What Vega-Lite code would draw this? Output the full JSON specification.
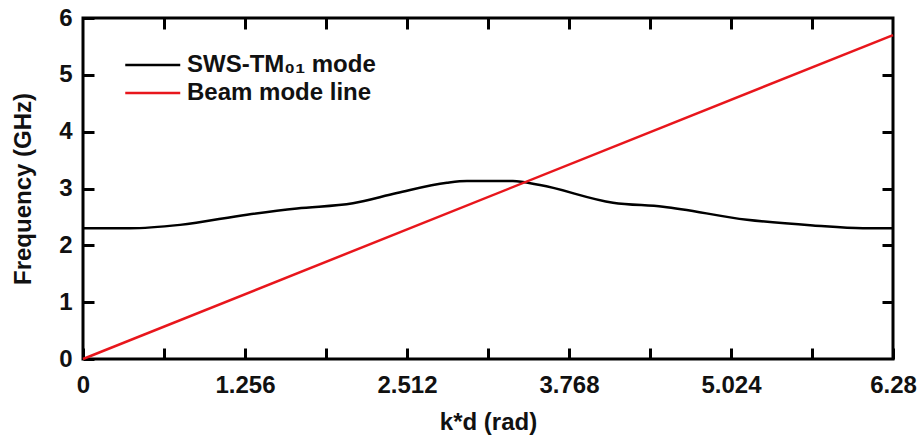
{
  "$schema": "https://vega.github.io/schema/vega-lite/v6.json",
  "width": 810,
  "height": 341,
  "autosize": {"type": "none"},
  "padding": {"left": 83, "top": 18, "right": 30, "bottom": 88},
  "background": "white",
  "config": {
    "view": {"stroke": "black", "strokeWidth": 3},
    "font": "Liberation Sans",
    "axis": {
      "domain": false, "ticks": true, "zindex": 1,
      "tickColor": "black", "tickWidth": 3, "tickSize": 11, "offset": -11,
      "labelFont": "Liberation Sans", "labelFontWeight": "bold", "labelFontSize": 24, "labelColor": "#111",
      "titleFont": "Liberation Sans", "titleFontWeight": "bold", "titleFontSize": 24, "titleColor": "#111",
      "grid": false
    }
  },
  "data": {
    "values": [
      {"kd": 0, "f": 2.30, "series": "SWS-TM₀₁ mode"},
      {"kd": 0.364, "f": 2.30, "series": "SWS-TM₀₁ mode"},
      {"kd": 0.752, "f": 2.36, "series": "SWS-TM₀₁ mode"},
      {"kd": 1.271, "f": 2.54, "series": "SWS-TM₀₁ mode"},
      {"kd": 1.659, "f": 2.65, "series": "SWS-TM₀₁ mode"},
      {"kd": 2.093, "f": 2.74, "series": "SWS-TM₀₁ mode"},
      {"kd": 2.434, "f": 2.92, "series": "SWS-TM₀₁ mode"},
      {"kd": 2.822, "f": 3.10, "series": "SWS-TM₀₁ mode"},
      {"kd": 2.977, "f": 3.13, "series": "SWS-TM₀₁ mode"},
      {"kd": 3.333, "f": 3.13, "series": "SWS-TM₀₁ mode"},
      {"kd": 3.543, "f": 3.06, "series": "SWS-TM₀₁ mode"},
      {"kd": 4.109, "f": 2.75, "series": "SWS-TM₀₁ mode"},
      {"kd": 4.497, "f": 2.68, "series": "SWS-TM₀₁ mode"},
      {"kd": 5.148, "f": 2.45, "series": "SWS-TM₀₁ mode"},
      {"kd": 5.660, "f": 2.35, "series": "SWS-TM₀₁ mode"},
      {"kd": 6.047, "f": 2.30, "series": "SWS-TM₀₁ mode"},
      {"kd": 6.28, "f": 2.30, "series": "SWS-TM₀₁ mode"},
      {"kd": 0, "f": 0, "series": "Beam mode line"},
      {"kd": 6.28, "f": 5.70, "series": "Beam mode line"}
    ]
  },
  "encoding": {
    "x": {"field": "kd", "type": "quantitative", "scale": {"domain": [0, 6.28], "nice": false, "zero": false}},
    "y": {"field": "f", "type": "quantitative", "scale": {"domain": [0, 6], "nice": false}},
    "color": {
      "field": "series", "type": "nominal",
      "scale": {"domain": ["SWS-TM₀₁ mode", "Beam mode line"], "range": ["#000000", "#e8161c"]},
      "legend": {
        "title": null, "orient": "none", "legendX": 41, "legendY": 32,
        "symbolType": "M-1,0H3", "symbolSize": 756, "symbolStrokeWidth": 2.5, "symbolFillColor": "transparent",
        "labelFont": "Liberation Sans", "labelFontWeight": "bold", "labelFontSize": 24, "labelColor": "#111",
        "labelOffset": 33, "rowPadding": 1, "labelLimit": 500
      }
    }
  },
  "layer": [
    {
      "transform": [{"filter": "datum.series === 'SWS-TM₀₁ mode'"}],
      "mark": {"type": "line", "strokeWidth": 2.5, "interpolate": "monotone"},
      "encoding": {
        "x": {"field": "kd", "type": "quantitative", "title": "k*d (rad)",
          "axis": {"orient": "bottom", "values": [0, 0.628, 1.256, 1.884, 2.512, 3.14, 3.768, 4.396, 5.024, 5.652, 6.28],
            "labelExpr": "round(datum.value / 0.628) % 2 == 0 ? format(datum.value, '.4~f') : ''",
            "labelPadding": 14, "titlePadding": 13, "labelFlush": false, "labelOverlap": false}},
        "y": {"field": "f", "type": "quantitative", "title": "Frequency (GHz)",
          "axis": {"orient": "left", "values": [0, 1, 2, 3, 4, 5, 6], "labelPadding": 11, "titlePadding": 23, "labelFlush": false}}
      }
    },
    {
      "transform": [{"filter": "datum.series === 'Beam mode line'"}],
      "mark": {"type": "line", "strokeWidth": 2.5},
      "encoding": {
        "x": {"field": "kd", "type": "quantitative",
          "axis": {"orient": "top", "title": null, "labels": false, "values": [0.628, 1.256, 1.884, 2.512, 3.14, 3.768, 4.396, 5.024, 5.652]}},
        "y": {"field": "f", "type": "quantitative",
          "axis": {"orient": "right", "title": null, "labels": false, "values": [1, 2, 3, 4, 5]}}
      }
    }
  ]
}
